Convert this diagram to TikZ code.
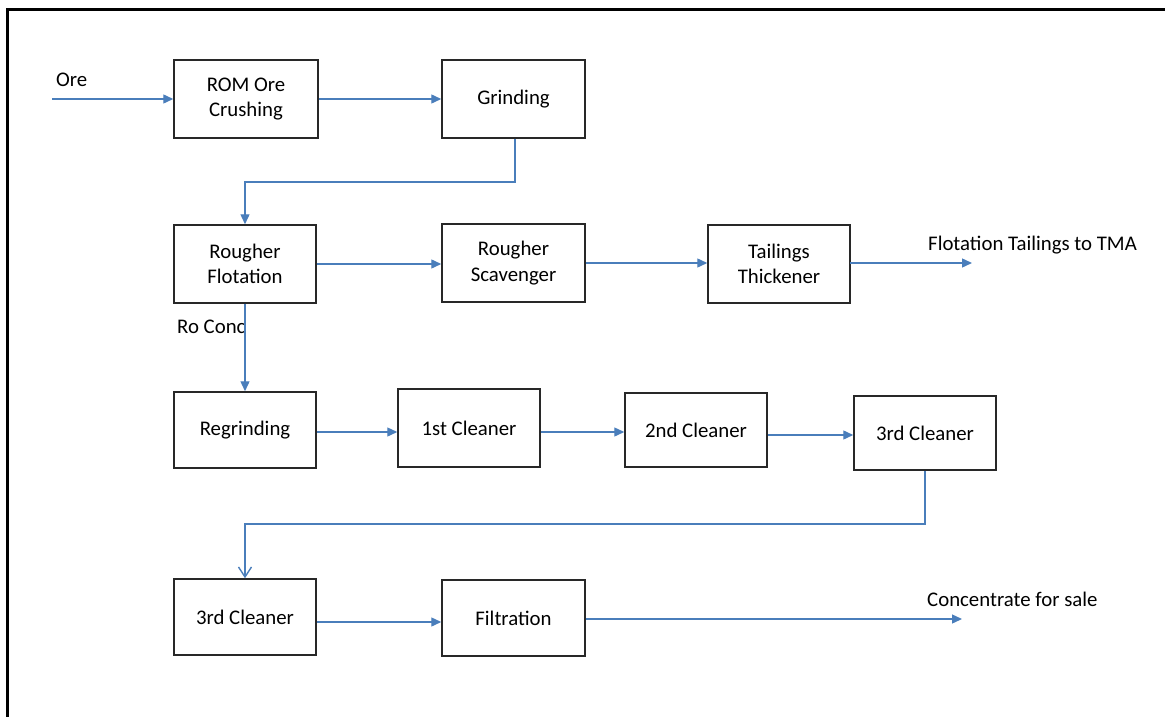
\documentclass[tikz,border=0pt]{standalone}
\usepackage{fontspec}
\setmainfont{Carlito}
\usetikzlibrary{arrows.meta}
\definecolor{flow}{RGB}{74,126,187}
\definecolor{boxline}{RGB}{40,40,40}
\tikzset{
  procbox/.style={draw=boxline, line width=1.5pt, rectangle, inner sep=0pt,
    minimum height=#1, align=center, font=\fontsize{20.8}{25.5}\selectfont},
  procbox/.default=78pt,
  flowline/.style={draw=flow, line width=1.4pt, -{Triangle[length=10pt,width=9pt]}},
  openflow/.style={draw=flow, line width=1.4pt, -{Straight Barb[length=10pt,width=13pt,line width=1.4pt]}},
  lbl/.style={inner sep=0pt, anchor=base west, font=\fontsize{20.8}{25.5}\selectfont}
}
\begin{document}
\begin{tikzpicture}[x=1pt,y=-1pt]
\useasboundingbox (0,0) rectangle (1165,717);
% frame
\draw[line width=3pt, black] (7.5,717) -- (7.5,9.5) -- (1165,9.5);

% boxes
\node[procbox, minimum width=144pt] (rom) at (246,99) {ROM Ore\\Crushing};
\node[procbox, minimum width=143pt] (grind) at (513.5,99) {Grinding};
\node[procbox, minimum width=142pt] (rough) at (245,264) {Rougher\\Flotation};
\node[procbox, minimum width=143pt] (scav) at (513.5,263) {Rougher\\Scavenger};
\node[procbox, minimum width=142pt] (thick) at (779,264) {Tailings\\Thickener};
\node[procbox=76pt, minimum width=142pt] (regr) at (245,430) {Regrinding};
\node[procbox, minimum width=142pt] (c1) at (469,428) {1st Cleaner};
\node[procbox=74pt, minimum width=142pt] (c2) at (696,430) {2nd Cleaner};
\node[procbox=74pt, minimum width=142pt] (c3) at (925,433) {3rd Cleaner};
\node[procbox=76pt, minimum width=142pt] (c3b) at (245,617) {3rd Cleaner};
\node[procbox=76pt, minimum width=143pt] (filt) at (513.5,618) {Filtration};

% labels
\node[lbl] (ore) at (56,87) {Ore};
\node[lbl] (roconc) at (177,333) {Ro Conc};
\node[lbl] (tails) at (928,250) {Flotation Tailings to TMA};
\node[lbl] (conc) at (927,606) {Concentrate for sale};

% free ends
\coordinate (orestart) at (52,99);
\coordinate (tailend) at (972,263);
\coordinate (concend) at (962,619);

% connectors
\draw[flowline] (orestart) -- (orestart -| rom.west);
\draw[flowline] (rom.east) -- (rom.east -| grind.west);
\draw[flowline] ([xshift=1.5pt]grind.south) -- ([xshift=1.5pt]grind.south |- 0,182) -| (rough.north);
\draw[flowline] (rough.east) -- (rough.east -| scav.west);
\draw[flowline] (scav.east) -- (scav.east -| thick.west);
\draw[flowline] (thick.east) -- (thick.east |- tailend) -- (tailend);
\draw[flowline] (rough.south) -- (regr.north);
\draw[flowline] (regr.east |- 0,432) -- (c1.west |- 0,432);
\draw[flowline] (c1.east |- 0,432) -- (c2.west |- 0,432);
\draw[flowline] (c2.east |- 0,435) -- (c3.west |- 0,435);
\draw[openflow] (c3.south) -- (c3.south |- 0,524) -| (c3b.north);
\draw[flowline] (c3b.east |- 0,622) -- (filt.west |- 0,622);
\draw[flowline] (filt.east |- concend) -- (concend);
\end{tikzpicture}
\end{document}
